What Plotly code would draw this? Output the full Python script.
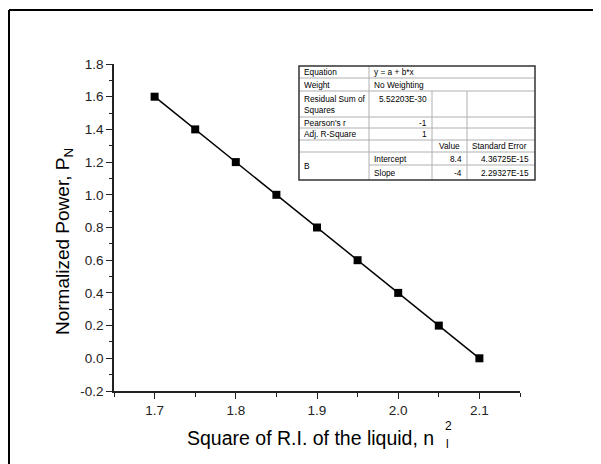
import plotly.graph_objects as go

# ---- data ----
x_vals = [1.70, 1.75, 1.80, 1.85, 1.90, 1.95, 2.00, 2.05, 2.10]
y_vals = [1.6, 1.4, 1.2, 1.0, 0.8, 0.6, 0.4, 0.2, 0.0]

x_ticks = [1.7, 1.8, 1.9, 2.0, 2.1]
y_ticks = [-0.2, 0.0, 0.2, 0.4, 0.6, 0.8, 1.0, 1.2, 1.4, 1.6, 1.8]

stat_labels = ["Equation", "Weight", "Residual Sum of<br>Squares", "Pearson's r", "Adj. R-Square"]
stat_values = ["y = a + b*x", "No Weighting", "5.52203E-30", "-1", "1"]
param_group = "B"
param_names = ["Intercept", "Slope"]
param_values = ["8.4", "-4"]
param_errors = ["4.36725E-15", "2.29327E-15"]
col_headers = ["Value", "Standard Error"]

# ---- layout geometry (page pixels; page body has an 8px margin) ----
FW, FH = 601, 464
OFF = 8
L, R, T, B = 114, 520, 64, 391
W, H = R - L, B - T


def px(x):
    return (x - L) / W


def py(y):
    return (B - y) / H


fig = go.Figure()
fig.add_trace(go.Scatter(
    x=x_vals, y=y_vals, mode="lines+markers",
    line=dict(color="black", width=1.5),
    marker=dict(symbol="square", size=8, color="black"),
    showlegend=False, cliponaxis=False,
))

shapes = []
annotations = []

# outer frame (top and left lines)
shapes.append(dict(type="line", xref="paper", yref="paper",
                   x0=px(9), x1=px(FW + 20), y0=py(10), y1=py(10),
                   line=dict(color="black", width=2)))
shapes.append(dict(type="line", xref="paper", yref="paper",
                   x0=px(9), x1=px(9), y0=py(10), y1=py(FH + 20),
                   line=dict(color="black", width=2)))

# ---- stats table ----
cx = [299, 369, 432, 467, 535]
ry = [66, 78, 91, 117, 128, 140, 152, 165, 180]
grid = dict(color="#b0b0b0", width=1)


def hline(y, x0, x1):
    shapes.append(dict(type="line", xref="paper", yref="paper",
                       x0=px(x0), x1=px(x1), y0=py(y), y1=py(y), line=grid))


def vline(x, y0, y1):
    shapes.append(dict(type="line", xref="paper", yref="paper",
                       x0=px(x), x1=px(x), y0=py(y0), y1=py(y1), line=grid))


shapes.append(dict(type="rect", xref="paper", yref="paper",
                   x0=px(cx[0]), x1=px(cx[4]), y0=py(ry[0]), y1=py(ry[8]),
                   fillcolor="white", line=dict(color="white", width=0), layer="above"))
for y in ry[1:7]:
    hline(y, cx[0], cx[4])
hline(ry[7], cx[1], cx[4])
vline(cx[1], ry[0], ry[8])
vline(cx[2], ry[2], ry[8])
vline(cx[3], ry[2], ry[8])
shapes.append(dict(type="rect", xref="paper", yref="paper",
                   x0=px(cx[0]), x1=px(cx[4]), y0=py(ry[0]), y1=py(ry[8]),
                   line=dict(color="#333333", width=1.5)))

FONT = "Arial, Liberation Sans, sans-serif"
tfont = dict(family=FONT, size=8.3, color="black")


def txt(text, x, y, xanchor="left", yanchor="middle"):
    annotations.append(dict(text=text, xref="paper", yref="paper",
                            x=px(x), y=py(y), xanchor=xanchor, yanchor=yanchor,
                            showarrow=False, font=tfont, align="left"))


row_mid = [(ry[i] + ry[i + 1]) / 2 for i in range(8)]
for i, lab in enumerate(stat_labels):
    txt(lab, cx[0] + 3, row_mid[i])
txt(stat_values[0], cx[1] + 3, row_mid[0])
txt(stat_values[1], cx[1] + 3, row_mid[1])
txt(stat_values[2], cx[2] - 3, ry[2] + 1, xanchor="right", yanchor="top")
txt(stat_values[3], cx[2] - 3, row_mid[3], xanchor="right")
txt(stat_values[4], cx[2] - 3, row_mid[4], xanchor="right")
txt(col_headers[0], (cx[2] + cx[3]) / 2, row_mid[5], xanchor="center")
txt(col_headers[1], cx[3] + 3, row_mid[5])
txt(param_group, cx[0] + 3, (ry[6] + ry[8]) / 2)
for k in range(2):
    txt(param_names[k], cx[1] + 3, row_mid[6 + k])
    txt(param_values[k], cx[3] - 3, row_mid[6 + k], xanchor="right")
    txt(param_errors[k], cx[4] - 4, row_mid[6 + k], xanchor="right")

# axis titles
afont = dict(family=FONT, size=19.5, color="black")
annotations.append(dict(text="Square of R.I. of the liquid, n", xref="paper", yref="paper",
                        x=px(185), y=py(438), xanchor="left", yanchor="middle",
                        showarrow=False, font=afont))
annotations.append(dict(text="2", xref="paper", yref="paper",
                        x=px(443), y=py(426), xanchor="left", yanchor="middle",
                        showarrow=False, font=dict(family=FONT, size=12, color="black")))
annotations.append(dict(text="l", xref="paper", yref="paper",
                        x=px(444), y=py(444), xanchor="left", yanchor="middle",
                        showarrow=False, font=dict(family=FONT, size=12, color="black")))
annotations.append(dict(text="Normalized Power, P<sub>N</sub>", xref="paper", yref="paper",
                        x=px(64), y=py(242), xanchor="center", yanchor="middle",
                        textangle=-90, showarrow=False,
                        font=dict(family=FONT, size=19, color="black")))

axis_common = dict(
    showline=True, linecolor="#222222", linewidth=1.5, mirror=False,
    showgrid=False, zeroline=False, ticks="outside", tickcolor="#222222",
    tickwidth=1.2, tickfont=dict(family=FONT, size=13.5, color="#222222"),
)

fig.update_layout(
    width=FW, height=FH,
    margin=dict(l=L - OFF, r=FW - (R - OFF), t=T - OFF, b=FH - (B - OFF), autoexpand=False),
    paper_bgcolor="white", plot_bgcolor="white",
    shapes=shapes, annotations=annotations,
    xaxis=dict(range=[1.65, 2.15], tickvals=x_ticks, ticktext=[f"{v:.1f}" for v in x_ticks],
               ticklen=6, automargin=False,
               minor=dict(ticks="outside", dtick=0.05, tick0=1.65, ticklen=4,
                          tickcolor="#222222", tickwidth=1.2),
               **axis_common),
    yaxis=dict(range=[-0.2, 1.8], tickvals=y_ticks, ticktext=[f"{v:.1f}" for v in y_ticks],
               ticklen=6, automargin=False,
               minor=dict(ticks="outside", dtick=0.1, tick0=-0.2, ticklen=3,
                          tickcolor="#222222", tickwidth=1.2),
               **axis_common),
)

fig.write_html("out.html")
